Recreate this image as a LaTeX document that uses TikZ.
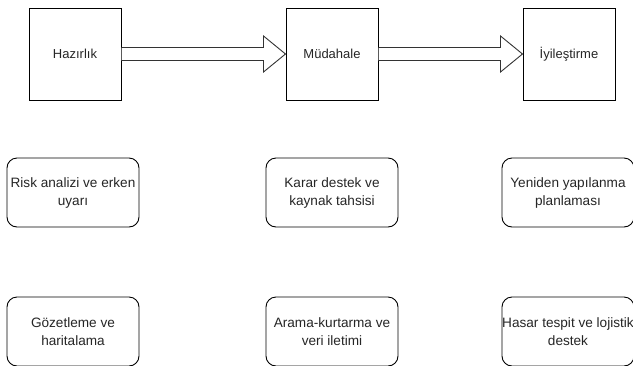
\documentclass[tikz,border=0pt]{standalone}
\usepackage{fontspec}
\setmainfont{Liberation Sans}
\usetikzlibrary{calc}
\begin{document}
\begin{tikzpicture}[x=1pt,y=-1pt,
  phase/.style={draw=black,line width=1pt,fill=white,minimum width=92pt,minimum height=92pt,inner sep=0pt,font=\fontsize{13}{15}\selectfont,text=black!85},
  task/.style={draw=black,line width=0.9pt,fill=white,rounded corners=10pt,minimum width=132pt,minimum height=69pt,inner sep=0pt,align=center,font=\fontsize{13.6}{18}\selectfont,text=black!85},
  blockarrow/.style={draw=black!80,line width=0.9pt,fill=white,line join=miter}
]
\useasboundingbox (0,0) rectangle (633,365);
\node[phase] (h) at (75,54) {Hazırlık};
\node[phase] (m) at (332,54) {Müdahale};
\node[phase] (i) at (569,54) {İyileştirme};

\draw[blockarrow] ($(h.east)+(0,-6.5)$) -- ($(m.west)+(-22,-6.5)$) -- ($(m.west)+(-22,-18)$) -- (m.west) -- ($(m.west)+(-22,18)$) -- ($(m.west)+(-22,6.5)$) -- ($(h.east)+(0,6.5)$);
\draw[blockarrow] ($(m.east)+(0,-6.5)$) -- ($(i.west)+(-22,-6.5)$) -- ($(i.west)+(-22,-18)$) -- (i.west) -- ($(i.west)+(-22,18)$) -- ($(i.west)+(-22,6.5)$) -- ($(m.east)+(0,6.5)$);

\node[task] (r1) at (73,192.5) {Risk analizi ve erken\\uyarı};
\node[task] (r2) at (332,192.5) {Karar destek ve\\kaynak tahsisi};
\node[task] (r3) at (568,192.5) {Yeniden yapılanma\\planlaması};
\node[task] (g1) at (73,331.5) {Gözetleme ve\\haritalama};
\node[task] (g2) at (332,331.5) {Arama-kurtarma ve\\veri iletimi};
\node[task] (g3) at (568,331.5) {Hasar tespit ve lojistik\\destek};
\end{tikzpicture}
\end{document}
